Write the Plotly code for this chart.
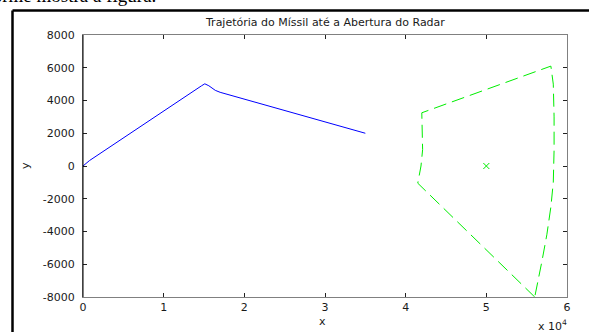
import plotly.graph_objects as go

# Missile trajectory (x, y)
missil_x = [0, 800, 14700, 15100, 15600, 16400, 17000, 35000]
missil_y = [0, 330, 4900, 5020, 4900, 4620, 4500, 2000]

# Radar coverage boundary (closed outline)
radar_x = [56000, 41500, 41900, 42100, 42000, 58000, 58300, 58400, 58400,
           58300, 58000, 57500, 56900, 56000]
radar_y = [-8000, -1050, 0, 1000, 3250, 6100, 5000, 3000, 1000,
           -1000, -2500, -4200, -5800, -8000]

# Radar position
radar_pos_x = [50000]
radar_pos_y = [0]

x_tickvals = [0, 10000, 20000, 30000, 40000, 50000, 60000]
x_ticktext = ["0", "1", "2", "3", "4", "5", "6"]
y_tickvals = [-8000, -6000, -4000, -2000, 0, 2000, 4000, 6000, 8000]
y_ticktext = ["-8000", "-6000", "-4000", "-2000", "0", "2000", "4000", "6000", "8000"]

W, H = 589, 332
L, R, T, B = 83, 567, 35, 297  # plot area in pixels


def px(xp):
    return (xp - L) / (R - L)


def py(yp):
    return (B - yp) / (B - T)


fig = go.Figure()
fig.add_trace(go.Scatter(x=missil_x, y=missil_y, mode="lines",
                         line=dict(color="#0000ff", width=1), showlegend=False))
fig.add_trace(go.Scatter(x=radar_x, y=radar_y, mode="lines",
                         line=dict(color="#00ee00", width=1, dash="13px,6px"),
                         showlegend=False))
fig.add_trace(go.Scatter(x=radar_pos_x, y=radar_pos_y, mode="markers",
                         marker=dict(symbol="x-thin", size=6, color="#00ee00",
                                     line=dict(color="#00ee00", width=1)),
                         showlegend=False))

tick_font = dict(family="DejaVu Sans", size=11, color="#1a1a1a")
fig.update_xaxes(range=[0, 60000], tickvals=x_tickvals, ticktext=x_ticktext,
                 ticks="inside", ticklen=4, tickcolor="#222", showgrid=False,
                 zeroline=False, showline=True, linecolor="#808080", linewidth=1,
                 mirror="ticks", tickfont=tick_font, ticklabelstandoff=0)
fig.update_yaxes(range=[-8000, 8000], tickvals=y_tickvals, ticktext=y_ticktext,
                 ticks="inside", ticklen=4, tickcolor="#222", showgrid=False,
                 zeroline=False, showline=True, linecolor="#808080", linewidth=1,
                 mirror="ticks", tickfont=tick_font, ticklabelstandoff=5)

shapes = [
    # dark left axis line
    dict(type="line", xref="paper", yref="paper", x0=0, x1=0, y0=0, y1=1,
         line=dict(color="#000000", width=1), layer="above"),
    # outer frame (top and left)
    dict(type="line", xref="paper", yref="paper", x0=px(12.5), x1=px(620),
         y0=py(10.5), y1=py(10.5), line=dict(color="#000000", width=2.5)),
    dict(type="line", xref="paper", yref="paper", x0=px(12.5), x1=px(12.5),
         y0=py(10.5), y1=py(360), line=dict(color="#000000", width=2.5)),
]

lab_font = dict(family="DejaVu Sans", size=11, color="#1a1a1a")
annotations = [
    dict(text="Trajetória do Míssil até a Abertura do Radar", x=0.5, y=py(23),
         xref="paper", yref="paper", xanchor="center", yanchor="middle",
         showarrow=False, font=lab_font),
    dict(text="x", x=px(322), y=py(321), xref="paper", yref="paper",
         xanchor="center", yanchor="middle", showarrow=False, font=lab_font),
    dict(text="y", x=px(25), y=py(166), xref="paper", yref="paper", textangle=-90,
         xanchor="center", yanchor="middle", showarrow=False, font=lab_font),
    dict(text="x 10<sup>4</sup>", x=px(569), y=py(325), xref="paper", yref="paper",
         xanchor="right", yanchor="middle", showarrow=False, font=lab_font),
    dict(text="conforme mostra a figura.", x=px(158), y=py(-4), xref="paper",
         yref="paper", xanchor="right", yanchor="middle", showarrow=False,
         font=dict(family="Liberation Serif", size=19, color="#000000")),
]

fig.update_layout(width=W, height=H, margin=dict(l=L, r=W - R, t=T, b=H - B),
                  paper_bgcolor="white", plot_bgcolor="white",
                  shapes=shapes, annotations=annotations)

fig.write_html("out.html")
